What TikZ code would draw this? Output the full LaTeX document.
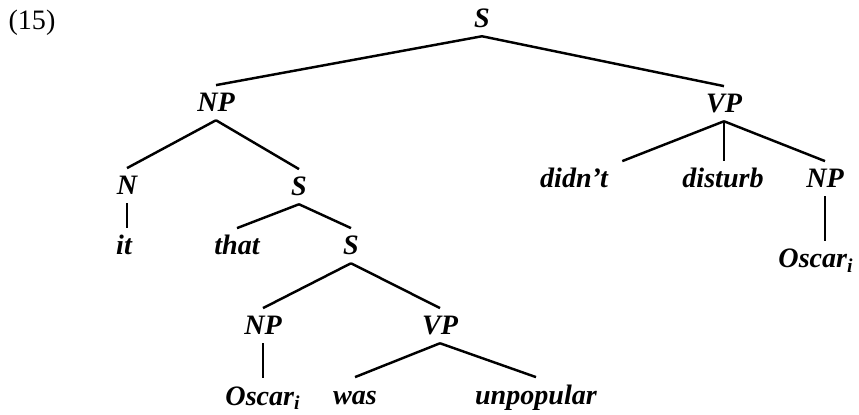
\documentclass[tikz,border=0pt]{standalone}
\usepackage{fontspec}
\setmainfont{Liberation Serif}
\begin{document}
\begin{tikzpicture}[x=0.02cm, y=-0.02cm,
  lbl/.style={font=\fontsize{16}{19}\selectfont\bfseries\itshape, inner xsep=1pt, inner ysep=4.5pt, text height=10.6pt, text depth=0pt, anchor=base},
  br/.style={line width=1.4pt}]
\useasboundingbox (0,0) rectangle (859,415);
\node[font=\fontsize{16}{19}\selectfont] (num) at (32,23) {(15)};
% upper tree
\node[lbl] (s) at (482,28) {S};
\node[lbl] (np) at (216,112) {NP};
\node[lbl] (vp) at (724,113) {VP};
\node[lbl] (n) at (127,195) {N};
\node[lbl] (s2) at (299,196) {S};
\node[lbl] (didnt) at (574,188) {didn't};
\node[lbl] (disturb) at (723,188) {disturb};
\node[lbl] (np3) at (825,188) {NP};
\node[lbl] (oscar2) at (816,268) {Oscar\textsubscript{i}};
% embedded clause
\node[lbl] (it) at (124,255) {it};
\node[lbl] (that) at (237,255) {that};
\node[lbl] (s3) at (351,255) {S};
\node[lbl] (np2) at (263,335) {NP};
\node[lbl] (vp2) at (440,335) {VP};
\node[lbl] (oscar) at (263,405) {Oscar\textsubscript{i}};
\node[lbl] (was) at (355,404) {was};
\node[lbl] (unpop) at (536,404) {unpopular};
\foreach \a/\b in {s/np, s/vp, np/n, np/s2, s2/that, s2/s3, s3/np2, s3/vp2,
  vp2/was, vp2/unpop, vp/np3}
  \draw[br] (\a.south) -- (\b.north);
% unary branches stay vertical
\foreach \a/\b in {n/it, np2/oscar, vp/disturb, np3/oscar2}
  \draw[br] (\a.south) -- (\a.south |- \b.north);
\draw[br] (vp.south) -- ([xshift=7pt]didnt.north east);
\end{tikzpicture}
\end{document}
